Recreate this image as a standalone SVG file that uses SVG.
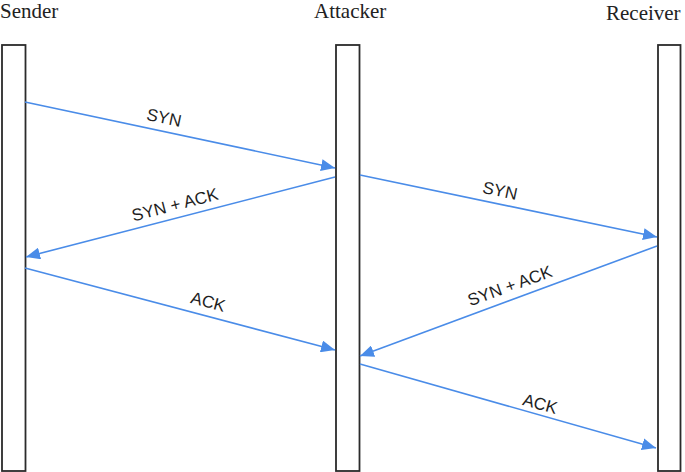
<svg xmlns="http://www.w3.org/2000/svg" width="685" height="472" viewBox="0 0 685 472">
<style>
.life{fill:#fff;stroke:#2b2b2b;stroke-width:1.8}
.title{font-family:"Liberation Serif",serif;font-size:21px;fill:#222}
.msg{stroke:#4a8ce8;stroke-width:1.6;fill:none;marker-end:url(#ah)}
.lbl{font-family:"Liberation Sans",Arial,sans-serif;font-size:17px;fill:#1e1e1e;text-anchor:middle;dominant-baseline:central}
</style>
<defs>
<marker id="ah" markerUnits="userSpaceOnUse" markerWidth="16" markerHeight="12" refX="14" refY="6" orient="auto">
<path d="M0,0 L14,6 L0,12 Z" fill="#4a8ce8"/>
</marker>
</defs>
<rect width="685" height="472" fill="#fff"/>
<g id="sender">
<rect class="life" x="2" y="45" width="23.5" height="426"/>
<text class="title" x="0" y="18">Sender</text>
</g>
<g id="attacker">
<rect class="life" x="336" y="45" width="23.5" height="426"/>
<text class="title" x="314" y="18">Attacker</text>
</g>
<g id="receiver">
<rect class="life" x="658" y="45" width="22.5" height="426"/>
<text class="title" x="606" y="20">Receiver</text>
</g>
<g id="connectors">
<line class="msg" x1="25" y1="102" x2="335" y2="168"/>
<line class="msg" x1="335" y1="177" x2="26" y2="257"/>
<line class="msg" x1="25" y1="268" x2="335" y2="350"/>
<line class="msg" x1="360" y1="175" x2="657" y2="237"/>
<line class="msg" x1="657" y1="246" x2="360" y2="356"/>
<line class="msg" x1="360" y1="364" x2="656" y2="448"/>
<text class="lbl" transform="translate(164,118) rotate(12)">SYN</text>
<text class="lbl" transform="translate(175,205) rotate(-14.5)">SYN + ACK</text>
<text class="lbl" transform="translate(208,302) rotate(15)">ACK</text>
<text class="lbl" transform="translate(500,191) rotate(12)">SYN</text>
<text class="lbl" transform="translate(510,286) rotate(-20)">SYN + ACK</text>
<text class="lbl" transform="translate(540,404) rotate(15.5)">ACK</text>
</g>
</svg>
